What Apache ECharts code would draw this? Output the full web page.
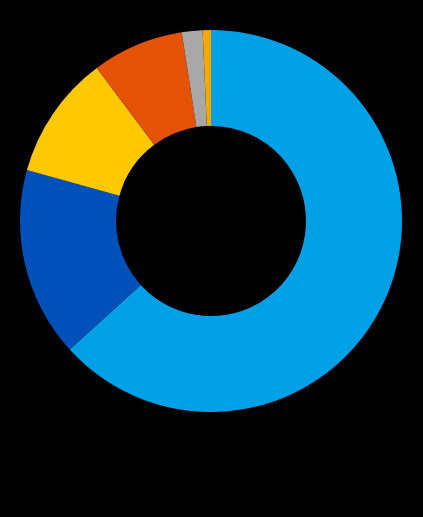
<!DOCTYPE html>
<html>
<head>
<meta charset="utf-8">
<script src="https://cdn.jsdelivr.net/npm/echarts@6/dist/echarts.min.js"></script>
<style>
html,body{margin:0;padding:0;background:#000;}
#c{width:423px;height:517px;}
</style>
</head>
<body>
<div id="c"></div>
<script>
const categories = ['Segment 1','Segment 2','Segment 3','Segment 4','Segment 5','Segment 6'];
const values = [63.25, 16.05, 10.5, 7.75, 1.75, 0.7];
const colors = ['#00A0E6','#0050B9','#FFC800','#E35205','#A8A8A8','#F5A800'];

const chart = echarts.init(document.getElementById('c'), null, {renderer:'canvas'});
chart.setOption({
  backgroundColor: '#000000',
  animation: false,
  series: [{
    type: 'pie',
    center: [211, 221],
    radius: [95, 191],
    startAngle: 90,
    clockwise: true,
    label: {show: false},
    labelLine: {show: false},
    itemStyle: {borderWidth: 0},
    emphasis: {disabled: true},
    data: categories.map((n,i)=>({name:n, value:values[i], itemStyle:{color:colors[i]}}))
  }]
});
</script>
</body>
</html>
